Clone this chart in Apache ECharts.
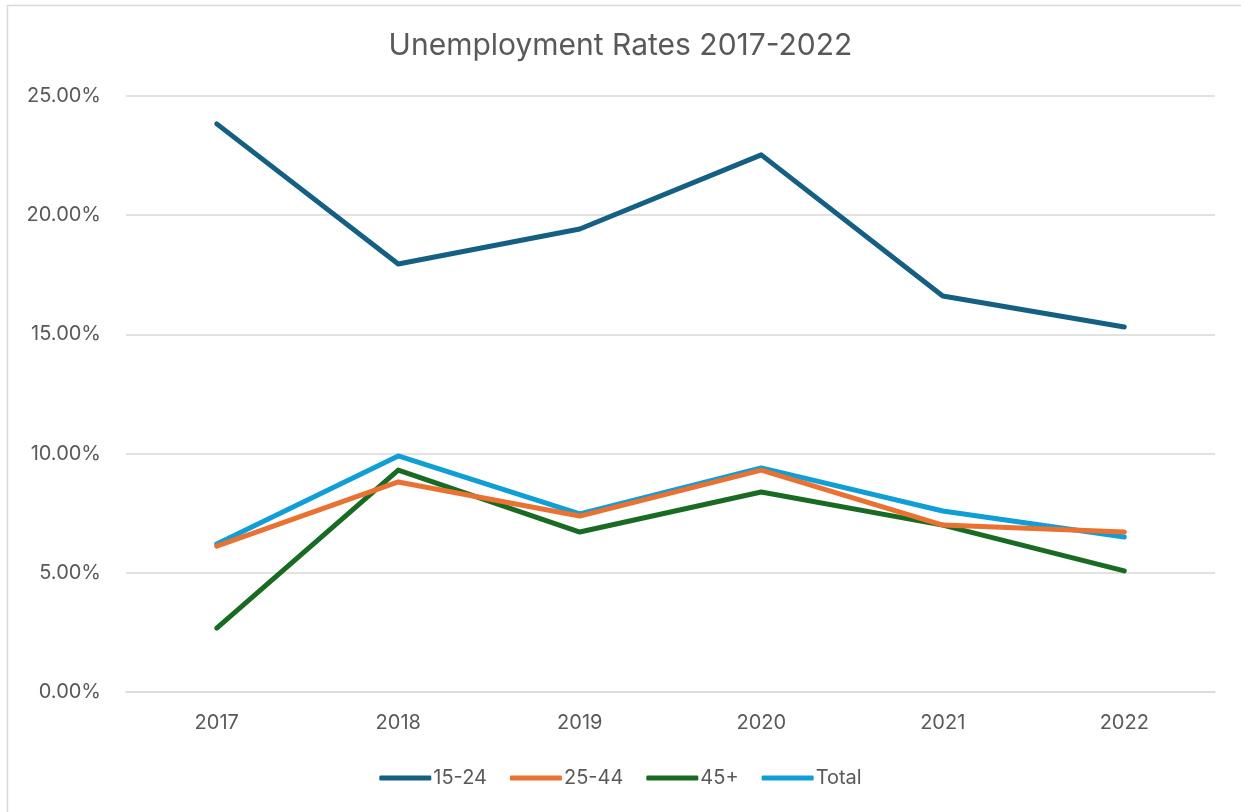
<!DOCTYPE html>
<html>
<head>
<meta charset="utf-8">
<script src="https://cdn.jsdelivr.net/npm/echarts@6/dist/echarts.min.js"></script>
<style>html,body{margin:0;padding:0;background:#fff}#c{width:1241px;height:812px}</style>
</head>
<body>
<div id="c"></div>
<script>
const years = ['2017','2018','2019','2020','2021','2022'];
const s15_24 = [23.83, 17.95, 19.42, 22.53, 16.61, 15.31];
const s25_44 = [6.12, 8.81, 7.38, 9.31, 7.00, 6.71];
const s45p   = [2.68, 9.31, 6.71, 8.39, 7.00, 5.08];
const sTotal = [6.21, 9.90, 7.47, 9.40, 7.59, 6.50];
const seriesNames = ['15-24','25-44','45+','Total'];
const colors = ['#156082','#E97132','#196B24','#0F9ED5'];
const font = 'Inter, "Noto Sans", sans-serif';
const chart = echarts.init(document.getElementById('c'));
const mk = (name, data, i) => ({
  name, type:'line', data, symbol:'none', smooth:false,
  lineStyle:{width:5, color:colors[i], cap:'round', join:'round'},
  itemStyle:{color:colors[i]}, z: 10 - i
});
chart.setOption({
  animation:false,
  backgroundColor:'#fff',
  graphic:[{type:'rect', shape:{x:7.5,y:5.5,width:1240,height:820}, style:{fill:'none', stroke:'#d9d9d9', lineWidth:1.5}}],
  title:{text:'Unemployment Rates 2017-2022', left:'center', top:26, padding:[5,0,5,12],
    textStyle:{fontFamily:font, fontSize:30, fontWeight:'normal', color:'#595959'}},
  legend:{bottom:19, left:'center', itemWidth:52, itemHeight:5, itemGap:23,
    icon:'roundRect', padding:[5,0,5,0],
    textStyle:{fontFamily:font, fontSize:20, color:'#595959', padding:[0,0,0,-3]},
    data:seriesNames},
  grid:{left:126, right:26, top:96, bottom:120},
  xAxis:{type:'category', data:years, boundaryGap:true,
    axisLine:{lineStyle:{color:'#d9d9d9', width:1.5}}, axisTick:{show:false},
    axisLabel:{fontFamily:font, fontSize:20, color:'#595959', margin:21}},
  yAxis:{type:'value', min:0, max:25, interval:5,
    axisLine:{show:false}, axisTick:{show:false},
    splitLine:{lineStyle:{color:'#d9d9d9', width:1.5}},
    axisLabel:{fontFamily:font, fontSize:20, color:'#595959', margin:25,
      formatter: v => v.toFixed(2) + '%'}},
  series:[mk('15-24', s15_24, 0), mk('25-44', s25_44, 1), mk('45+', s45p, 2), mk('Total', sTotal, 3)]
});
</script>
</body>
</html>
